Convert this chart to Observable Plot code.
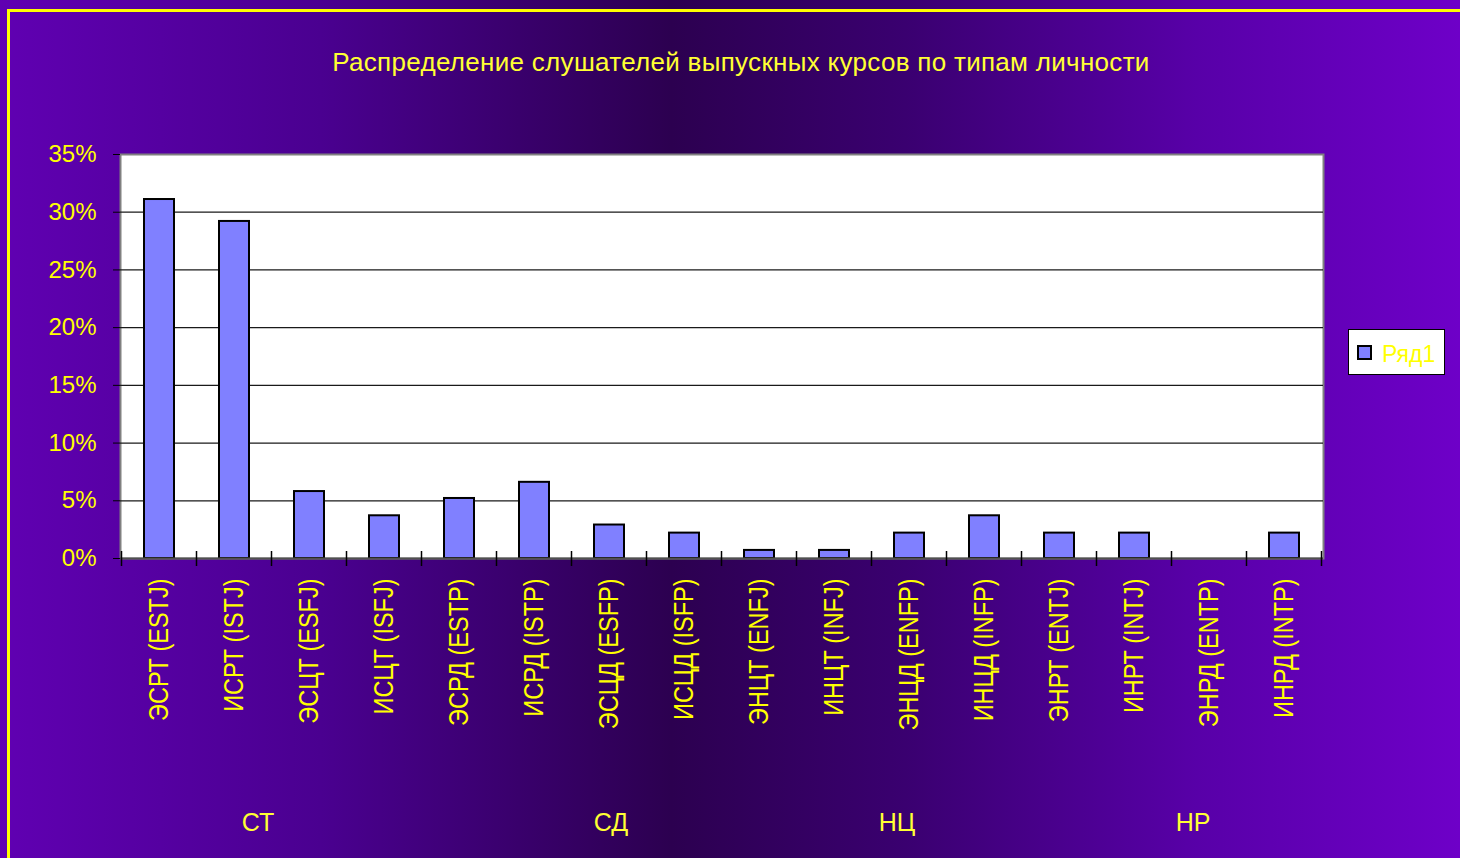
<!DOCTYPE html>
<html>
<head>
<meta charset="utf-8">
<script src="https://cdn.jsdelivr.net/npm/d3@7"></script>
<script src="https://cdn.jsdelivr.net/npm/@observablehq/plot@0.6"></script>
<style>
  html, body { margin: 0; padding: 0; }
  body { width: 1460px; height: 858px; overflow: hidden; }
  #wrap {
    position: relative; width: 1460px; height: 858px; overflow: hidden;
    background: linear-gradient(to right, #6000b2 0%, #4a0090 22%, #2c0050 46%, #3a0070 62%, #5800a8 82%, #6e00c8 100%);
    font-family: "Liberation Sans", Arial, sans-serif;
    color: #ffff33;
  }
  #border { position: absolute; left: 7px; top: 9px; width: 1500px; height: 900px;
    border-left: 3px solid #ffff00; border-top: 3px solid #ffff00; box-sizing: border-box; }
  #chart { position: absolute; left: 0; top: 0; }
  .title { position: absolute; left: 0; width: 1482px; top: 49px; text-align: center;
    font-size: 26px; line-height: 26px; white-space: nowrap; letter-spacing: 0.3px; }
  .group { position: absolute; top: 810px; font-size: 25px; line-height: 25px; width: 100px; text-align: center; margin-left: -50px; }
  #legend { position: absolute; left: 1348px; top: 329px; width: 97px; height: 46px; box-sizing: border-box;
    background: #fff; border: 1px solid #000; }
  #legend .sw { position: absolute; left: 8px; top: 15px; width: 15px; height: 15px; box-sizing: border-box;
    background: #8080ff; border: 2px solid #000; }
  #legend .lt { position: absolute; left: 33px; top: 13px; font-size: 23px; line-height: 23px; color: #ffff00; }
</style>
</head>
<body>
<div id="wrap">
  <div id="chart"></div>
  <div id="border"></div>
</div>
<script>
const categories = ["ЭСРТ (ESTJ)", "ИСРТ (ISTJ)", "ЭСЦТ (ESFJ)", "ИСЦТ (ISFJ)", "ЭСРД (ESTP)", "ИСРД (ISTP)",
  "ЭСЦД (ESFP)", "ИСЦД (ISFP)", "ЭНЦТ (ENFJ)", "ИНЦТ (INFJ)", "ЭНЦД (ENFP)", "ИНЦД (INFP)",
  "ЭНРТ (ENTJ)", "ИНРТ (INTJ)", "ЭНРД (ENTP)", "ИНРД (INTP)"];
const shares = [31.1, 29.2, 5.8, 3.7, 5.2, 6.6, 2.9, 2.2, 0.7, 0.7, 2.2, 3.7, 2.2, 2.2, 0, 2.2];
const yTicks = [0, 5, 10, 15, 20, 25, 30, 35];
const groupLabels = ["СТ", "СД", "НЦ", "НР"];
const groupCenters = [258, 611, 897, 1193];
const titleText = "Распределение слушателей выпускных курсов по типам личности";
const seriesName = "Ряд1";

const data = categories.map((c, i) => ({cat: c, v: shares[i]}));

const plot = Plot.plot({
  width: 1460, height: 858,
  marginLeft: 120, marginRight: 137, marginTop: 154, marginBottom: 300,
  style: {background: "transparent", fontFamily: "'Liberation Sans', Arial, sans-serif", overflow: "visible"},
  x: {domain: categories, paddingInner: 0.6, paddingOuter: 0.3, label: null},
  y: {domain: [0, 35], label: null},
  marks: [
    Plot.frame({fill: "#ffffff", stroke: "#808080", strokeWidth: 2}),
    Plot.gridY(yTicks.slice(1, -1), {stroke: "#1a1a1a", strokeOpacity: 1, strokeWidth: 1.2}),
    Plot.barY(data, {x: "cat", y: "v", fill: "#8080ff", stroke: "#000", strokeWidth: 2}),
    Plot.ruleY([0], {stroke: "#505050", strokeWidth: 2}),
    Plot.axisY({ticks: yTicks, tickFormat: d => d + "%", tickSize: 7, tickPadding: 17,
      fontSize: 24, stroke: "#000", fill: "#ffff00", label: null}),
    Plot.axisX({tickRotate: -90, tickSize: 0, tickPadding: 20, fontSize: 27,
      fill: "#ffff00", label: null})
  ]
});
document.getElementById("chart").appendChild(plot);

// condense the rotated category labels along their length (original font is narrow)
d3.select(plot).selectAll('g[aria-label="x-axis tick label"] text').each(function() {
  const len = this.getComputedTextLength();
  this.setAttribute("textLength", (len * 0.87).toFixed(1));
  this.setAttribute("lengthAdjust", "spacingAndGlyphs");
});

// category boundary ticks on x axis, positioned from the plot's own scales
const xs = plot.scale("x"), ys = plot.scale("y");
const y0 = ys.apply(0);
const half = (xs.step - xs.bandwidth) / 2;
const bounds = categories.map(c => xs.apply(c) - half).concat([xs.apply(categories[categories.length - 1]) + xs.bandwidth + half]);
d3.select(plot).append("g")
  .selectAll("line").data(bounds).join("line")
  .attr("x1", d => d).attr("x2", d => d)
  .attr("y1", y0 - 7).attr("y2", y0 + 8)
  .attr("stroke", "#000").attr("stroke-width", 1.5);

const wrap = document.getElementById("wrap");
const t = document.createElement("div");
t.className = "title"; t.textContent = titleText; wrap.appendChild(t);
groupLabels.forEach((g, i) => {
  const d = document.createElement("div");
  d.className = "group"; d.textContent = g; d.style.left = groupCenters[i] + "px";
  wrap.appendChild(d);
});
const lg = document.createElement("div");
lg.id = "legend";
lg.innerHTML = '<div class="sw"></div><div class="lt"></div>';
lg.querySelector(".lt").textContent = seriesName;
wrap.appendChild(lg);
</script>
</body>
</html>
